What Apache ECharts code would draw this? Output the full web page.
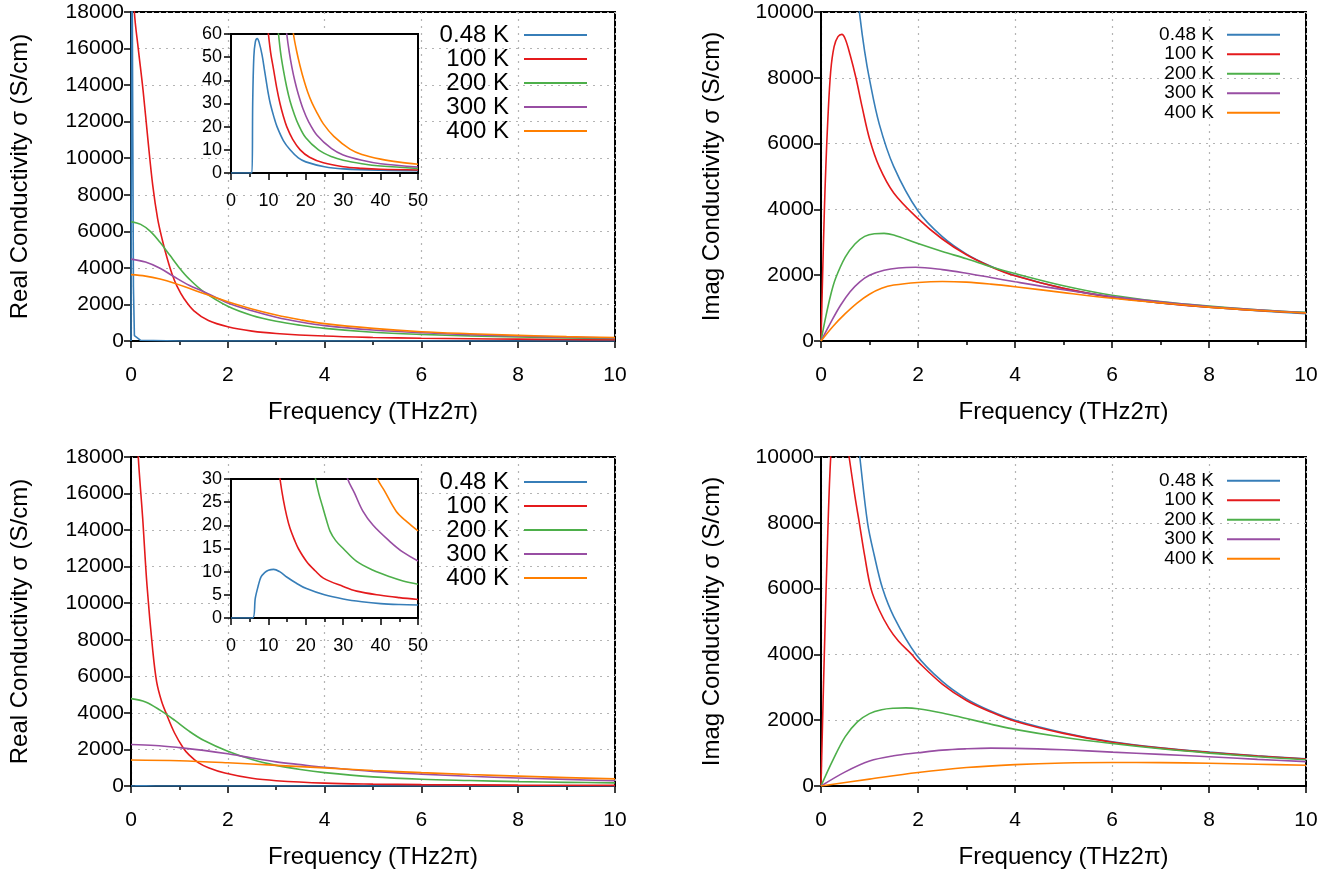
<!DOCTYPE html>
<html>
<head>
<meta charset="utf-8">
<script src="https://cdn.jsdelivr.net/npm/echarts@6/dist/echarts.min.js"></script>
<style>
html,body{margin:0;padding:0;background:#fff;}
#chart{width:1344px;height:875px;}
</style>
</head>
<body>
<div id="chart"></div>
<script>
// ---------- legend / categories ----------
const seriesNames = ['0.48 K', '100 K', '200 K', '300 K', '400 K'];
const seriesColors = ['#377eb8', '#e41a1c', '#4daf4a', '#984ea3', '#ff7f00'];

// ---------- tick settings ----------
const freqTicks = {min: 0, max: 10, interval: 2};
const realTicks = {min: 0, max: 18000, interval: 2000};
const imagTicks = {min: 0, max: 10000, interval: 2000};
const insetXTicks = {min: 0, max: 50, interval: 10};
const insetTopYTicks = {min: 0, max: 60, interval: 10};
const insetBotYTicks = {min: 0, max: 30, interval: 5};

// ---------- top-left: real conductivity ----------
const tlReal048 = [[0,0],[0.012,0],[0.016,25000],[0.045,25000],[0.05,3000],[0.07,300],[0.2,40],[1,3],[10,0]];
const tlReal100 = [[0,23000],[0.07,18000],[0.15,16000],[0.25,13700],[0.35,11000],[0.45,8500],[0.55,6700],[0.65,5500],[0.75,4500],[0.85,3650],[0.95,3000],[1.1,2300],[1.3,1650],[1.6,1120],[2,780],[2.5,540],[3,410],[4,270],[5,195],[6,150],[7,120],[8,100],[9,80],[10,65]];
const tlReal200 = [[0,6520],[0.2,6380],[0.4,6000],[0.6,5400],[0.8,4700],[1.0,4000],[1.2,3400],[1.5,2700],[2,1900],[2.5,1400],[3,1080],[3.5,860],[4,690],[5,480],[6,360],[7,280],[8,220],[9,170],[10,140]];
const tlReal300 = [[0,4480],[0.3,4320],[0.6,3980],[0.9,3500],[1.2,3050],[1.5,2700],[2,2080],[2.5,1650],[3,1300],[3.5,1040],[4,840],[5,600],[6,450],[7,350],[8,270],[9,210],[10,165]];
const tlReal400 = [[0,3630],[0.3,3550],[0.6,3390],[0.9,3160],[1.2,2880],[1.5,2600],[2,2150],[2.5,1750],[3,1420],[3.5,1160],[4,950],[5,690],[6,510],[7,400],[8,310],[9,240],[10,190]];

// top-left inset
const tlIn048 = [[0,0],[5.6,0],[5.8,30],[6.1,50],[6.5,56.5],[7,58],[7.5,56.5],[8.3,51],[9,44],[10,34],[10.5,30],[11.5,24],[12.3,20],[14,14],[15.8,10],[18,6.5],[20,4.8],[25,2.7],[30,1.8],[40,1.2],[50,1.0]];
const tlIn100 = [[9.5,68],[10,60],[10.6,52],[11.4,44.5],[12.2,37],[13.1,30],[14,24.5],[14.9,20],[16.5,14.5],[18.5,10],[21,6.8],[24.7,4.4],[30,2.7],[35,2.0],[40,1.6],[50,1.3]];
const tlIn200 = [[12.2,68],[12.7,60],[13.3,51.5],[14,44.5],[14.9,37],[15.8,31],[16.9,25.5],[18,21],[20,15.2],[23.4,10],[27,7],[30,5.5],[35,4],[40,3],[50,2]];
const tlIn300 = [[14.4,68],[14.9,60],[15.6,52],[16.3,45.5],[17.1,39.5],[18,34],[19.3,27.5],[20.7,22.3],[23,16.3],[26.9,10.5],[30,7.8],[35,5.5],[40,4],[50,2.6]];
const tlIn400 = [[16.2,68],[16.7,60],[17.5,53],[18.5,46],[19.5,40],[20.5,35],[21.6,30.5],[23,26],[24.7,21.2],[27.5,15.8],[31.8,10.3],[35,8],[40,6],[45,4.7],[50,3.8]];

// ---------- top-right: imaginary conductivity ----------
const trImag048 = [[0.6,13200],[0.7,11300],[0.8,9900],[0.9,8800],[1.0,7950],[1.2,6600],[1.5,5300],[2,3950],[2.5,3170],[3,2640],[3.5,2270],[4,1990],[5,1600],[6,1330],[7,1160],[8,1030],[9,920],[10,830]];
const trImag100 = [[0,0],[0.03,1800],[0.07,4000],[0.1,5300],[0.14,6700],[0.2,8200],[0.27,8950],[0.35,9250],[0.43,9320],[0.5,9180],[0.6,8700],[0.72,8000],[0.85,7100],[1.0,6150],[1.2,5300],[1.5,4500],[2,3720],[2.5,3100],[3,2620],[3.5,2260],[4,1980],[5,1600],[6,1330],[7,1160],[8,1030],[9,930],[10,850]];
const trImag200 = [[0,0],[0.1,750],[0.2,1400],[0.3,1900],[0.5,2550],[0.7,2950],[0.9,3180],[1.1,3260],[1.3,3270],[1.5,3220],[2,2960],[2.5,2720],[3,2500],[3.5,2260],[4,2050],[5,1680],[6,1390],[7,1200],[8,1060],[9,950],[10,870]];
const trImag300 = [[0,0],[0.2,560],[0.4,1080],[0.6,1500],[0.8,1800],[1.0,2000],[1.3,2150],[1.6,2220],[1.95,2240],[2.5,2170],[3,2060],[3.5,1930],[4,1800],[5,1560],[6,1350],[7,1190],[8,1050],[9,950],[10,860]];
const trImag400 = [[0,0],[0.25,450],[0.5,830],[0.75,1160],[1.0,1420],[1.25,1600],[1.5,1700],[2.0,1780],[2.5,1810],[3,1790],[3.5,1730],[4,1650],[5,1470],[6,1300],[7,1160],[8,1030],[9,930],[10,850]];

// ---------- bottom-left: real conductivity ----------
const blReal048 = [[0,0],[0.05,0],[0.1,5],[0.5,3],[2,1],[10,0]];
const blReal100 = [[0.08,24000],[0.1,21000],[0.15,18000],[0.24,14700],[0.33,11000],[0.45,7400],[0.53,5700],[0.63,4650],[0.73,3950],[0.9,2900],[1.08,2080],[1.2,1700],[1.39,1280],[1.6,1000],[1.94,710],[2.5,420],[3,290],[4,160],[5,105],[6,75],[8,50],[10,35]];
const blReal200 = [[0,4780],[0.3,4600],[0.6,4150],[0.9,3600],[1.2,3000],[1.5,2500],[2,1900],[2.5,1450],[3,1130],[3.5,900],[4,730],[5,500],[6,370],[7,300],[8,240],[9,200],[10,170]];
const blReal300 = [[0,2270],[0.5,2220],[1.0,2100],[1.5,1950],[2,1760],[2.5,1530],[3,1320],[3.5,1170],[4,1030],[5,800],[6,650],[7,530],[8,440],[9,360],[10,290]];
const blReal400 = [[0,1420],[1,1380],[2,1270],[3,1130],[4,990],[5,850],[6,730],[7,630],[8,540],[9,460],[10,390]];

// bottom-left inset
const blIn048 = [[0,0],[5.8,0],[6.5,4.3],[7.3,7],[8,8.8],[9,9.8],[10,10.3],[11.4,10.5],[13,10],[15,8.8],[17.5,7.5],[20,6.4],[25,5],[30,4.1],[35,3.5],[40,3.1],[45,2.9],[50,2.8]];
const blIn100 = [[12.5,34],[13.1,30],[14,25.5],[14.9,22],[15.8,19.3],[17,16.8],[18,15],[20.2,12.2],[22.5,10.2],[24.7,8.6],[30,6.8],[33.6,5.8],[40,4.9],[45,4.4],[50,4.0]];
const blIn200 = [[22,33],[22.6,30],[23.5,26.8],[24.5,24],[25.5,21.2],[26.5,18.7],[28,16.7],[30,15],[33.6,12.2],[38,10.3],[42.5,8.9],[46,8],[50,7.3]];
const blIn300 = [[30.5,33],[31.2,30],[33,27],[35.3,23],[38,20],[42.5,16.5],[46,14.2],[50,12.3]];
const blIn400 = [[38.5,33],[39.2,30],[41,27.5],[44.2,23],[47,20.8],[50,18.8]];

// ---------- bottom-right: imaginary conductivity ----------
const brImag048 = [[0.6,13200],[0.7,11300],[0.8,10000],[0.96,8000],[1.1,7000],[1.27,6000],[1.5,5150],[1.96,4000],[2.5,3180],[3,2650],[3.5,2280],[4,2000],[5,1620],[6,1340],[7,1160],[8,1030],[9,920],[10,830]];
const brImag100 = [[0,0],[0.03,1800],[0.07,4100],[0.14,7700],[0.2,10000],[0.28,11500],[0.36,11900],[0.46,11200],[0.58,10000],[0.7,8800],[0.79,8000],[0.9,7000],[1.03,6000],[1.2,5350],[1.4,4800],[1.6,4400],[1.87,4000],[2,3780],[2.5,3100],[3,2600],[3.5,2250],[4,1970],[5,1600],[6,1330],[7,1150],[8,1020],[9,910],[10,820]];
const brImag200 = [[0,0],[0.25,800],[0.5,1500],[0.75,1950],[1.0,2200],[1.25,2320],[1.5,2365],[1.75,2375],[2.0,2350],[2.5,2220],[3,2050],[3.5,1880],[4,1720],[5,1480],[6,1290],[7,1130],[8,1000],[9,890],[10,800]];
const brImag300 = [[0,0],[0.5,430],[1.0,760],[1.5,920],[2.0,1010],[2.5,1090],[3.0,1130],[3.5,1150],[4.0,1145],[5,1100],[6,1030],[7,960],[8,890],[9,810],[10,740]];
const brImag400 = [[0,0],[1,210],[2,410],[3,560],[4,650],[5,700],[6,715],[7,710],[8,690],[9,660],[10,630]];

// ---------- build ----------
const FONT = '"Liberation Sans", Arial, Helvetica, sans-serif';
const panels = [
  [tlReal048, tlReal100, tlReal200, tlReal300, tlReal400],
  [trImag048, trImag100, trImag200, trImag300, trImag400],
  [blReal048, blReal100, blReal200, blReal300, blReal400],
  [brImag048, brImag100, brImag200, brImag300, brImag400],
  [tlIn048, tlIn100, tlIn200, tlIn300, tlIn400],
  [blIn048, blIn100, blIn200, blIn300, blIn400]
];

const grids = [
  {left: 131, top: 12, width: 484, height: 329},
  {left: 821, top: 12, width: 485, height: 329},
  {left: 131, top: 457, width: 484, height: 329},
  {left: 821, top: 457, width: 485, height: 329},
  {left: 231, top: 34, width: 187, height: 139, z: 3},
  {left: 231, top: 479, width: 187, height: 139, z: 3}
].map(g => Object.assign({show: true, borderColor: '#000', borderWidth: 2, backgroundColor: '#fff', containLabel: false}, g));

const plain = v => String(v);
const gridLine = {show: true, lineStyle: {color: '#b4b4b4', width: 1.2, type: [2, 5]}};
const blackLine = {lineStyle: {color: '#000', width: 2}};
const tick = (len) => ({show: true, inside: false, length: len, lineStyle: {color: '#000', width: 1.5}});
const titleStyle = {fontSize: 24, color: '#000', fontFamily: FONT};

function mainX(i) {
  return Object.assign({
    gridIndex: i, type: 'value',
    axisLine: blackLine, axisTick: tick(7),
    minorTick: {show: true, splitNumber: 2, length: 4, lineStyle: {color: '#000', width: 1.5}},
    splitLine: gridLine,
    axisLabel: {fontSize: 21, color: '#000', margin: 24, fontFamily: FONT, formatter: plain},
    name: 'Frequency (THz2\u03c0)', nameLocation: 'middle', nameGap: 59,
    nameTextStyle: titleStyle
  }, freqTicks);
}
function mainY(i, ticks, name) {
  return Object.assign({
    gridIndex: i, type: 'value',
    axisLine: Object.assign({show: true}, blackLine), axisTick: tick(7),
    splitLine: gridLine,
    axisLabel: {fontSize: 21, color: '#000', margin: 7, fontFamily: FONT, formatter: plain},
    name: name, nameLocation: 'middle', nameGap: 99,
    nameTextStyle: titleStyle
  }, ticks);
}
function insetX(i) {
  return Object.assign({
    gridIndex: i, type: 'value', z: 4,
    axisLine: blackLine, axisTick: tick(7),
    minorTick: {show: true, splitNumber: 2, length: 4, lineStyle: {color: '#000', width: 1.5}},
    splitLine: {show: false},
    axisLabel: {fontSize: 18, color: '#000', margin: 19, fontFamily: FONT, formatter: plain}
  }, insetXTicks);
}
function insetY(i, ticks) {
  return Object.assign({
    gridIndex: i, type: 'value', z: 4,
    axisLine: Object.assign({show: true}, blackLine), axisTick: tick(7),
    splitLine: {show: false},
    axisLabel: {fontSize: 18, color: '#000', margin: 9, fontFamily: FONT, formatter: plain}
  }, ticks);
}

const xAxes = [mainX(0), mainX(1), mainX(2), mainX(3), insetX(4), insetX(5)];
const yAxes = [
  mainY(0, realTicks, 'Real Conductivity \u03c3 (S/cm)'),
  mainY(1, imagTicks, 'Imag Conductivity \u03c3 (S/cm)'),
  mainY(2, realTicks, 'Real Conductivity \u03c3 (S/cm)'),
  mainY(3, imagTicks, 'Imag Conductivity \u03c3 (S/cm)'),
  insetY(4, insetTopYTicks),
  insetY(5, insetBotYTicks)
];
yAxes[1].nameGap = 97;
yAxes[3].nameGap = 97;

const series = [];
panels.forEach((sets, gi) => {
  sets.forEach((data, si) => {
    const spike = (gi === 0 && si === 0);
    series.push({
      type: 'line', name: seriesNames[si], data: data,
      xAxisIndex: gi, yAxisIndex: gi,
      symbol: 'none', showSymbol: false,
      smooth: spike ? false : 0.35,
      clip: true, silent: true,
      z: gi >= 4 ? 5 : 2,
      lineStyle: {width: 1.6, color: seriesColors[si]},
      itemStyle: {color: seriesColors[si]},
      emphasis: {disabled: true}
    });
  });
});

function legend(right, top, fs, ih, iw, gapPad) {
  return {
    orient: 'vertical', right: right, top: top, padding: 0,
    align: 'right', itemWidth: iw, itemHeight: ih, itemGap: 0,
    selectedMode: false,
    itemStyle: {opacity: 0},
    data: seriesNames,
    textStyle: {fontSize: fs, color: '#000', fontFamily: FONT, lineHeight: ih, padding: [0, gapPad, 0, 0]}
  };
}

const option = {
  animation: false,
  backgroundColor: '#fff',
  grid: grids,
  xAxis: xAxes,
  yAxis: yAxes,
  legend: [
    legend(1344 - 588, 23, 24, 24, 63, 10),
    legend(1344 - 1281, 25, 19, 19.5, 53, 8),
    legend(1344 - 588, 470, 24, 24, 63, 10),
    legend(1344 - 1281, 471, 19, 19.5, 53, 8)
  ],
  series: series
};

const chart = echarts.init(document.getElementById('chart'), null, {renderer: 'canvas'});
chart.setOption(option);
</script>
</body>
</html>
